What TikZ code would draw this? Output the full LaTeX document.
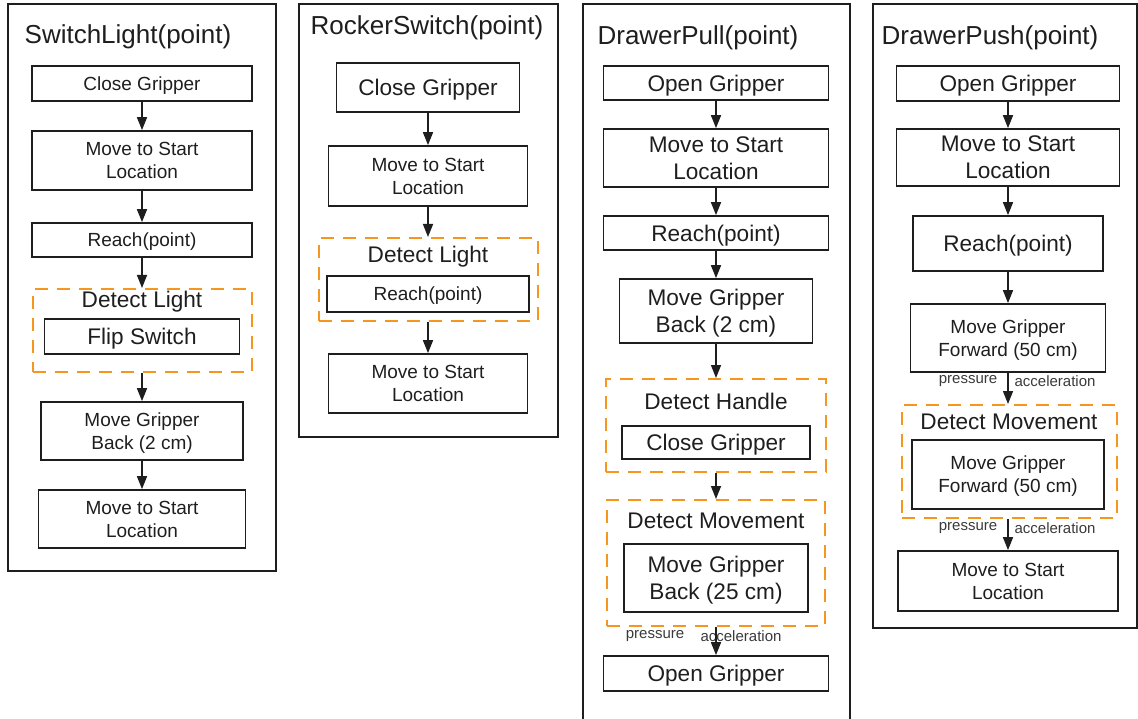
\documentclass[tikz,border=0pt]{standalone}
\usepackage{fontspec}
\setmainfont{Liberation Sans}
\usetikzlibrary{arrows.meta}
\definecolor{ink}{HTML}{1e1e1e}
\definecolor{ink2}{HTML}{3a3a3a}
\definecolor{sense}{HTML}{F7961F}

\begin{document}
\begin{tikzpicture}[
  x=1pt, y=-1pt,
  every node/.style={text=ink},
  frame/.style={draw=ink, line width=1.6pt},
  box/.style={draw=ink, line width=1.7pt, align=center, inner sep=0pt, text depth=0pt},
  small/.style={font=\fontsize{19}{23}\selectfont},
  big/.style={font=\fontsize{22.6}{27}\selectfont},
  title/.style={font=\fontsize{26}{30}\selectfont},
  watch/.style={draw=sense, line width=2pt, dash pattern=on 13pt off 9pt, inner sep=0pt},
  sig/.style={font=\fontsize{15}{18}\selectfont, text=ink2},
  flow/.style={-{Triangle[length=13pt, width=10pt]}, line width=1.5pt, draw=ink},
]
\useasboundingbox (0,0) rectangle (1138,719);
% SwitchLight
\draw[frame] (8,4) rectangle (276,571);
\node[title] (sl) at (128,37) {SwitchLight(point)};
\node[box, small, minimum width=220pt, minimum height=35pt] (slclose) at (142,83.5) {Close Gripper};
\node[box, small, minimum width=220pt, minimum height=59pt] (slstart) at (142,160.5) {Move to Start\\Location};
\node[box, small, minimum width=220pt, minimum height=34pt] (slreach) at (142,240) {Reach(point)};
\node[watch, minimum width=219pt, minimum height=83pt] (sldetect) at (142,330.5) {};
\node[big] (sldetectlab) at (142,302) {Detect Light};
\node[box, big, minimum width=195pt, minimum height=35pt] (slflip) at (142,336.5) {Flip Switch};
\node[box, small, minimum width=202pt, minimum height=58pt] (slback) at (142,431) {Move Gripper\\Back (2 cm)};
\node[box, small, minimum width=207pt, minimum height=58pt] (slreturn) at (142,519) {Move to Start\\Location};
\draw[flow] (slclose) -- (slstart);
\draw[flow] (slstart) -- (slreach);
\draw[flow] (slreach) -- (sldetect);
\draw[flow] (sldetect) -- (slback);
\draw[flow] (slback) -- (slreturn);
% RockerSwitch
\draw[frame] (299,4) rectangle (558,437);
\node[title] (rs) at (427,28) {RockerSwitch(point)};
\node[box, big, minimum width=183pt, minimum height=49pt] (rsclose) at (428,87.5) {Close Gripper};
\node[box, small, minimum width=199pt, minimum height=60pt] (rsstart) at (428,176) {Move to Start\\Location};
\node[watch, minimum width=219pt, minimum height=83pt] (rsdetect) at (428,279.5) {};
\node[big] (rsdetectlab) at (428,257) {Detect Light};
\node[box, small, minimum width=202pt, minimum height=36pt] (rsreach) at (428,294) {Reach(point)};
\node[box, small, minimum width=199pt, minimum height=59pt] (rsreturn) at (428,383.5) {Move to Start\\Location};
\draw[flow] (rsclose) -- (rsstart);
\draw[flow] (rsstart) -- (rsdetect);
\draw[flow] (rsdetect) -- (rsreturn);
% DrawerPull
\draw[frame] (583,4) rectangle (850,730);
\node[title] (dpl) at (698,38) {DrawerPull(point)};
\node[box, big, minimum width=225pt, minimum height=34pt] (dplopen) at (716,83) {Open Gripper};
\node[box, big, minimum width=225pt, minimum height=58pt] (dplstart) at (716,158) {Move to Start\\Location};
\node[box, big, minimum width=225pt, minimum height=34pt] (dplreach) at (716,233) {Reach(point)};
\node[box, big, minimum width=193pt, minimum height=64pt] (dplback) at (716,311) {Move Gripper\\Back (2 cm)};
\node[watch, minimum width=220pt, minimum height=93pt] (dplhandle) at (716,425.5) {};
\node[big] (dplhandlelab) at (716,401) {Detect Handle};
\node[box, big, minimum width=188pt, minimum height=33pt] (dplclose) at (716,442.5) {Close Gripper};
\node[watch, minimum width=218pt, minimum height=126pt] (dplmove) at (716,563) {};
\node[big] (dplmovelab) at (716,521) {Detect Movement};
\node[box, big, minimum width=184pt, minimum height=68pt] (dplpull) at (716,578) {Move Gripper\\Back (25 cm)};
\node[box, big, minimum width=225pt, minimum height=35pt] (dplopenb) at (716,673.5) {Open Gripper};
\node[sig] (dplpress) at (655,636) {pressure};
\node[sig] (dplaccel) at (741,636) {acceleration};
\draw[flow] (dplopen) -- (dplstart);
\draw[flow] (dplstart) -- (dplreach);
\draw[flow] (dplreach) -- (dplback);
\draw[flow] (dplback) -- (dplhandle);
\draw[flow] (dplhandle) -- (dplmove);
\draw[flow] (dplmove) -- (dplopenb);
% DrawerPush
\draw[frame] (873,4) rectangle (1137,628);
\node[title] (dps) at (990,38) {DrawerPush(point)};
\node[box, big, minimum width=223pt, minimum height=35pt] (dpsopen) at (1008,83.5) {Open Gripper};
\node[box, big, minimum width=223pt, minimum height=57pt] (dpsstart) at (1008,157.5) {Move to Start\\Location};
\node[box, big, minimum width=190pt, minimum height=55pt] (dpsreach) at (1008,243.5) {Reach(point)};
\node[box, small, minimum width=195pt, minimum height=68pt] (dpsfwd) at (1008,338) {Move Gripper\\Forward (50 cm)};
\node[sig] (dpspressa) at (968,381) {pressure};
\node[sig] (dpsaccela) at (1055,381) {acceleration};
\node[watch, minimum width=215pt, minimum height=113pt] (dpsmove) at (1009,461.5) {};
\node[big] (dpsmovelab) at (1009,422) {Detect Movement};
\node[box, small, minimum width=192pt, minimum height=69pt] (dpspush) at (1008,474.5) {Move Gripper\\Forward (50 cm)};
\node[sig] (dpspressb) at (968,528) {pressure};
\node[sig] (dpsaccelb) at (1055,528) {acceleration};
\node[box, small, minimum width=220pt, minimum height=60pt] (dpsreturn) at (1008,581) {Move to Start\\Location};
\draw[flow] (dpsopen) -- (dpsstart);
\draw[flow] (dpsstart) -- (dpsreach);
\draw[flow] (dpsreach) -- (dpsfwd);
\draw[flow] (dpsfwd) -- (dpsfwd |- dpsmove.north);
\draw[flow] (dpsmove.south -| dpspush) -- (dpsreturn);
\end{tikzpicture}
\end{document}
